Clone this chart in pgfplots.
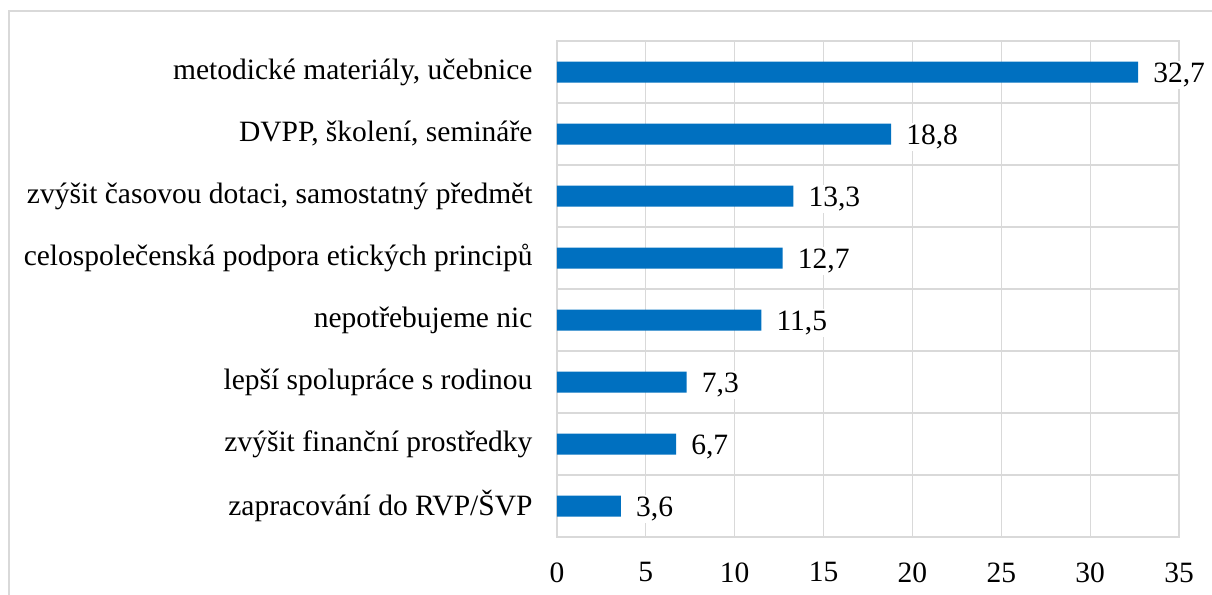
\documentclass[border=0pt]{standalone}
\usepackage{pgfplots}
\pgfplotsset{compat=1.18}
\usepackage{fontspec}
\setmainfont{Liberation Serif}
\definecolor{barblue}{RGB}{0,112,192}
\definecolor{gridgray}{RGB}{217,217,217}
\begin{document}
\begin{tikzpicture}[x=1bp,y=1bp]
\path[use as bounding box] (-557,-58) rectangle (655,537);
\draw[gridgray, line width=1.2bp] (-548,-90) rectangle (690,526);
\begin{axis}[at={(0,0)}, anchor=south west, scale only axis,
  width=622bp, height=496bp,
  xmin=0, xmax=35, ymin=0.5, ymax=8.5, y dir=reverse,
  xbar, bar width=21bp, bar shift=0pt,
  xtick={0,5,...,35},
  ytick={1,...,8},
  yticklabels={{metodické materiály, učebnice}, {DVPP, školení, semináře}, {zvýšit časovou dotaci, samostatný předmět}, {celospolečenská podpora etických principů}, {nepotřebujeme nic}, {lepší spolupráce s rodinou}, {zvýšit finanční prostředky}, {zapracování do RVP/ŠVP}},
  minor ytick={0.5,1.5,...,8.5},
  xmajorgrids, yminorgrids,
  major grid style={gridgray, line width=1.2bp},
  minor grid style={gridgray, line width=1.2bp},
  axis line style={gridgray, line width=1.2bp},
  major tick length=0pt, minor tick length=0pt,
  tick style={draw=none},
  font=\fontsize{29.5bp}{34bp}\selectfont,
  /pgf/number format/assume math mode=true,
  xticklabel style={yshift=-22bp},
  yticklabel style={xshift=-21bp, anchor=east},
  nodes near coords={\pgfmathprintnumber[use comma,fixed,fixed zerofill,precision=1]{\pgfplotspointmeta}},
  nodes near coords style={anchor=west, fill=white, inner sep=2bp, xshift=13bp, yshift=-3bp, font=\fontsize{29.5bp}{34bp}\selectfont},
  point meta=explicit,
]
\addplot[fill=barblue, draw=none] coordinates {
(32.7,1) [32.7]
(18.8,2) [18.8]
(13.3,3) [13.3]
(12.7,4) [12.7]
(11.5,5) [11.5]
(7.3,6) [7.3]
(6.7,7) [6.7]
(3.6,8) [3.6]
};
\end{axis}
\end{tikzpicture}
\end{document}
